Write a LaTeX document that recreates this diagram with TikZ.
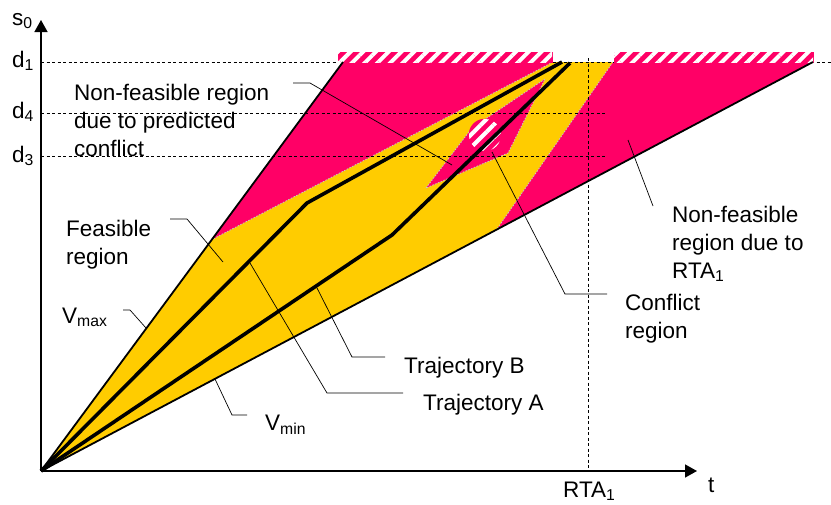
\documentclass[tikz,border=0pt]{standalone}
\usepackage{fontspec}
\setmainfont{Liberation Sans}
\usetikzlibrary{arrows.meta,patterns.meta}
\definecolor{pinkr}{HTML}{FF0066}
\definecolor{yell}{HTML}{FFCC00}
\begin{document}
\begin{tikzpicture}[x=1pt,y=-1pt,
  lbl/.style={inner sep=0pt, font=\fontsize{22.5}{28}\selectfont, align=left},
  leader/.style={draw=black, line width=0.7pt},
  guide/.style={draw=black, line width=0.8pt, dash pattern=on 3pt off 2.5pt},
  rim/.style={draw=white!55!gray, line width=0.8pt, dash pattern=on 1.5pt off 1.5pt},
  traj/.style={draw=black, line width=3.6pt, line join=round},
  vline/.style={draw=black, line width=1.8pt},
  hatch/.style={fill=pinkr, postaction={pattern={Lines[angle=45,distance=9pt,line width=4pt]}, pattern color=white}},
  axis/.style={draw=black, line width=1.5pt, -{Triangle[length=12pt,width=13pt]}},
]
\useasboundingbox (0,0) rectangle (831,504);
% key points
\coordinate (O) at (41,471);
\coordinate (ytip) at (41,20);
\coordinate (xtip) at (697,471);
\coordinate (vmaxT) at (343,62);
\coordinate (vminT) at (813,62);
\coordinate (pA) at (211,240);
\coordinate (pB) at (553,62);
\coordinate (qA) at (613,62);
\coordinate (qB) at (497,229);
% regions
\fill[yell] (O) -- (vmaxT) -- (vminT) -- cycle;
\fill[pinkr] (pA) -- (vmaxT) -- (pB) -- cycle;
\fill[pinkr] (qA) -- (vminT) -- (qB) -- cycle;
\draw[rim] (pA) -- (pB);
\draw[rim] (qA) -- (qB);
\filldraw[fill=pinkr, rim] (426,188) -- (472,128) -- (545,79) -- (508,153) -- cycle;
% guide lines
\draw[guide] (41,62) -- (831,62);
\draw[guide] (41,113) -- (606,113);
\draw[guide] (41,156) -- (606,156);
\draw[guide] (588,58) -- (588,471);
% conflict circle
\path[hatch, draw=pinkr, line width=0.6pt] (485,135) circle[radius=16];
% trajectories
\coordinate (aBend) at (307,203);
\coordinate (aEnd) at (562,62);
\coordinate (bBend) at (392,235);
\coordinate (bEnd) at (570,63);
\draw[traj] (O) -- (aBend) -- (aEnd);
\draw[traj] (O) -- (bBend) -- (bEnd);
% hatched bars
\path[hatch, draw=pinkr, line width=0.8pt] (338,52) rectangle (552,62);
\path[hatch, draw=pinkr, line width=0.8pt] (614,52) rectangle (813,62);
% speed limits
\draw[vline] (O) -- (vmaxT);
\draw[vline] (O) -- (vminT);
% axes
\draw[axis] (O) -- (ytip);
\draw[axis] (O) -- (xtip);
% axis labels
\node[lbl, anchor=base west] (s0) at (12,25) {s\textsubscript{0}};
\node[lbl, anchor=base west] (d1) at (12,67) {d\textsubscript{1}};
\node[lbl, anchor=base west] (d4) at (12,118) {d\textsubscript{4}};
\node[lbl, anchor=base west] (d3) at (12,162) {d\textsubscript{3}};
\node[lbl, anchor=base west] (tl) at (708,492) {t};
\node[lbl, anchor=base west] (rta) at (563,497) {RTA\textsubscript{1}};
% texts
\node[lbl, anchor=north west] (np) at (74,83.6) {Non-feasible region\\due to predicted\\conflict};
\node[lbl, anchor=north west] (feas) at (66,219.6) {Feasible\\region};
\node[lbl, anchor=base west] (vmax) at (62,323) {V\textsubscript{max}};
\node[lbl, anchor=base west] (vmin) at (265,430) {V\textsubscript{min}};
\node[lbl, anchor=base west] (trB) at (404,373) {Trajectory B};
\node[lbl, anchor=base west] (trA) at (423,410) {Trajectory A};
\node[lbl, anchor=north west] (conf) at (625,293.6) {Conflict\\region};
\node[lbl, anchor=north west] (nfr) at (672,205.6) {Non-feasible\\region due to\\RTA\textsubscript{1}};
% leaders
\coordinate (npK) at (293,83);
\coordinate (npE) at (310,83);
\coordinate (npT) at (452,165);
\draw[leader] (npK) -- (npE) -- (npT);
\coordinate (feK) at (170,219);
\coordinate (feE) at (187,219);
\coordinate (feT) at (223,262);
\draw[leader] (feK) -- (feE) -- (feT);
\coordinate (vxK) at (123,310);
\coordinate (vxE) at (130,310);
\coordinate (vxT) at (146,328);
\draw[leader] (vxK) -- (vxE) -- (vxT);
\coordinate (vnT) at (215,379);
\coordinate (vnE) at (232,415);
\coordinate (vnK) at (247,415);
\draw[leader] (vnT) -- (vnE) -- (vnK);
\coordinate (taT) at (250,263);
\coordinate (taE) at (327,393);
\coordinate (taK) at (403,393);
\draw[leader] (taT) -- (taE) -- (taK);
\coordinate (tbT) at (317,288);
\coordinate (tbE) at (352,357);
\coordinate (tbK) at (385,357);
\draw[leader] (tbT) -- (tbE) -- (tbK);
\coordinate (cfT) at (492,152);
\coordinate (cfE) at (565,294);
\coordinate (cfK) at (607,294);
\draw[leader] (cfT) -- (cfE) -- (cfK);
\coordinate (rtT) at (628,140);
\coordinate (rtE) at (653,206);
\draw[leader] (rtT) -- (rtE);
\end{tikzpicture}
\end{document}
